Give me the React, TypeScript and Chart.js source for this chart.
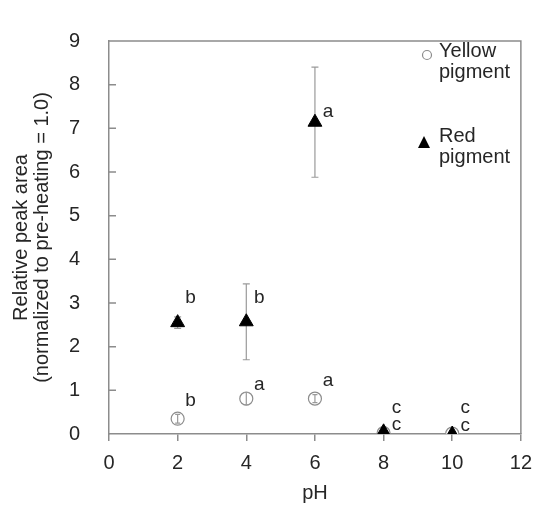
import { useEffect, useRef } from 'react';
import { Chart, registerables } from 'chart.js';

Chart.register(...registerables);

const PH = [2, 4, 6, 8, 10];
const RED_MEAN = [2.55, 2.57, 7.14, 0.05, 0.0];
const RED_ERR = [0.13, 0.87, 1.26, 0.03, 0.02];
const YELLOW_MEAN = [0.35, 0.81, 0.81, 0.02, 0.01];
const YELLOW_ERR = [0.1, 0.14, 0.09, 0.02, 0.01];
const RED_LETTERS = ['b', 'b', 'a', 'c', 'c'];
const YELLOW_LETTERS = ['b', 'a', 'a', 'c', 'c'];
const X_TICKS = [0, 2, 4, 6, 8, 10, 12];
const Y_TICKS = [0, 1, 2, 3, 4, 5, 6, 7, 8, 9];

const FONT = 'Liberation Sans, Arial, sans-serif';
const AXIS = '#8c8c8c';
const TEXT = '#262626';

// pixel offsets of the significance letters from their point
const RED_LABEL_DY = [-25, -24, -10, -24, -26];
const YELLOW_LABEL_DY = [-18, -14, -18, -8, -8];

const framePlugin = {
  id: 'frame',
  beforeDatasetsDraw(chart: any) {
    const { ctx, chartArea } = chart;
    const y = chart.scales.y;
    ctx.save();
    ctx.strokeStyle = AXIS;
    ctx.lineWidth = 1.5;
    ctx.beginPath();
    ctx.moveTo(chartArea.left, chartArea.top);
    ctx.lineTo(chartArea.right, chartArea.top);
    ctx.lineTo(chartArea.right, chartArea.bottom);
    ctx.stroke();
    ctx.beginPath();
    Y_TICKS.forEach((v) => {
      if (v === 0 || v === 9) return;
      const py = y.getPixelForValue(v);
      ctx.moveTo(chartArea.left, py);
      ctx.lineTo(chartArea.left + 7, py);
    });
    ctx.stroke();
    // red error bars (behind markers)
    drawErrors(chart, RED_MEAN, RED_ERR, 3.5);
    ctx.restore();
  },
  afterDatasetsDraw(chart: any) {
    const { ctx } = chart;
    const x = chart.scales.x;
    const y = chart.scales.y;
    ctx.save();
    drawErrors(chart, YELLOW_MEAN, YELLOW_ERR, 2.5);
    ctx.fillStyle = TEXT;
    ctx.font = `19px ${FONT}`;
    ctx.textAlign = 'center';
    ctx.textBaseline = 'middle';
    PH.forEach((p, i) => {
      const px = x.getPixelForValue(p);
      ctx.fillText(RED_LETTERS[i], px + 13, y.getPixelForValue(RED_MEAN[i]) + RED_LABEL_DY[i]);
      ctx.fillText(YELLOW_LETTERS[i], px + 13, y.getPixelForValue(YELLOW_MEAN[i]) + YELLOW_LABEL_DY[i]);
    });
    // legend
    const lx = 419;
    ctx.strokeStyle = '#8c8c8c';
    ctx.lineWidth = 1.2;
    ctx.fillStyle = '#ffffff';
    ctx.beginPath();
    ctx.arc(lx, 47, 4.5, 0, Math.PI * 2);
    ctx.fill();
    ctx.stroke();
    ctx.fillStyle = '#000000';
    ctx.beginPath();
    ctx.moveTo(lx - 3, 128);
    ctx.lineTo(lx + 3, 140);
    ctx.lineTo(lx - 9, 140);
    ctx.closePath();
    ctx.fill();
    ctx.fillStyle = TEXT;
    ctx.font = `20px ${FONT}`;
    ctx.textAlign = 'left';
    ctx.textBaseline = 'alphabetic';
    ctx.fillText('Yellow', 431, 49);
    ctx.fillText('pigment', 431, 70);
    ctx.fillText('Red', 431, 134);
    ctx.fillText('pigment', 431, 155);
    ctx.restore();
  },
};

function drawErrors(chart: any, mean: number[], err: number[], cap: number) {
  const { ctx } = chart;
  const x = chart.scales.x;
  const y = chart.scales.y;
  ctx.save();
  ctx.strokeStyle = '#9a9a9a';
  ctx.lineWidth = 1.2;
  PH.forEach((p, i) => {
    if (err[i] < 0.05) return;
    const px = x.getPixelForValue(p);
    const top = y.getPixelForValue(mean[i] + err[i]);
    const bot = y.getPixelForValue(mean[i] - err[i]);
    ctx.beginPath();
    ctx.moveTo(px, top);
    ctx.lineTo(px, bot);
    ctx.moveTo(px - cap, top);
    ctx.lineTo(px + cap, top);
    ctx.moveTo(px - cap, bot);
    ctx.lineTo(px + cap, bot);
    ctx.stroke();
  });
  ctx.restore();
}

export default function App() {
  const ref = useRef<HTMLCanvasElement>(null);
  useEffect(() => {
    const chart = new Chart(ref.current!, {
      type: 'scatter',
      data: {
        datasets: [
          {
            label: 'Red pigment',
            data: PH.map((p, i) => ({ x: p, y: RED_MEAN[i] })),
            pointStyle: 'triangle',
            pointRadius: 8,
            backgroundColor: '#000000',
            borderColor: '#000000',
            borderWidth: 1,
            order: 0,
          },
          {
            label: 'Yellow pigment',
            data: PH.map((p, i) => ({ x: p, y: YELLOW_MEAN[i] })),
            pointStyle: 'circle',
            pointRadius: 6.5,
            backgroundColor: '#ffffff',
            borderColor: '#8c8c8c',
            borderWidth: 1.2,
            order: 1,
          },
        ],
      },
      options: {
        responsive: false,
        animation: false,
        layout: { padding: { top: 16, right: 13, left: 0, bottom: 0 } },
        plugins: { legend: { display: false }, tooltip: { enabled: false } },
        scales: {
          x: {
            type: 'linear',
            min: 0,
            max: 12,
            afterBuildTicks: (s: any) => {
              s.ticks = X_TICKS.map((v) => ({ value: v }));
            },
            afterFit: (s: any) => {
              s.height = 76;
            },
            ticks: { color: TEXT, font: { family: FONT, size: 20 }, padding: 10, maxRotation: 0 },
            grid: { display: true, drawOnChartArea: false, drawTicks: true, tickLength: 7, color: AXIS, lineWidth: 1.5 },
            border: { display: true, color: AXIS, width: 1.5 },
            title: { display: true, text: 'pH', color: TEXT, font: { family: FONT, size: 20 }, padding: { top: 0, bottom: 5 } },
          },
          y: {
            type: 'linear',
            min: 0,
            max: 9,
            afterBuildTicks: (s: any) => {
              s.ticks = Y_TICKS.map((v) => ({ value: v }));
            },
            afterFit: (s: any) => {
              s.width = 101;
            },
            ticks: { color: TEXT, font: { family: FONT, size: 20 }, padding: 21 },
            grid: { display: false },
            border: { display: true, color: AXIS, width: 1.5 },
            title: {
              display: true,
              text: ['Relative peak area', '(normalized to pre-heating = 1.0)'],
              color: TEXT,
              font: { family: FONT, size: 20, lineHeight: 1.05 },
              padding: { top: 3, bottom: 0 },
            },
          },
        },
      },
      plugins: [framePlugin],
    });
    return () => chart.destroy();
  }, []);
  return (
    <div style={{ width: 534, height: 502 }}>
      <canvas ref={ref} width={534} height={502} />
    </div>
  );
}
